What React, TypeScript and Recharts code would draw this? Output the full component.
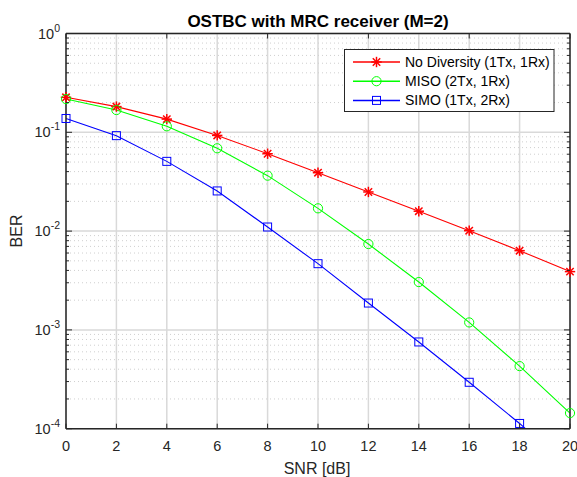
import { LineChart, Line, XAxis, YAxis, CartesianGrid, ReferenceLine } from "recharts"

const snr = [0, 2, 4, 6, 8, 10, 12, 14, 16, 18, 20]
const noDiversity = [0.226, 0.182, 0.136, 0.093, 0.0607, 0.039, 0.0249, 0.0159, 0.0101, 0.00634, 0.00389]
const miso = [0.217, 0.168, 0.115, 0.0689, 0.0364, 0.017, 0.0074, 0.00305, 0.00119, 0.00043, 0.000144]
const simo = [0.138, 0.0925, 0.0508, 0.0255, 0.011, 0.00468, 0.00187, 0.000755, 0.000295, 0.000113, 0.00004]

const xTicks = [0, 2, 4, 6, 8, 10, 12, 14, 16, 18, 20]
const yTicks = [1e-4, 1e-3, 1e-2, 1e-1, 1]
const yMinor = [1e-4, 1e-3, 1e-2, 1e-1].flatMap((d) => [2, 3, 4, 5, 6, 7, 8, 9].map((m) => m * d))
const yDomain = [1e-4, 1]

const series = [
  { key: "noDiv", name: "No Diversity (1Tx, 1Rx)", color: "#ff0000", marker: "star" },
  { key: "miso", name: "MISO (2Tx, 1Rx)", color: "#00ff00", marker: "circle" },
  { key: "simo", name: "SIMO (1Tx, 2Rx)", color: "#0000ff", marker: "square" },
]

const data = snr.map((s, i) => ({ snr: s, noDiv: noDiversity[i], miso: miso[i], simo: simo[i] }))

const ink = "#262626"
const font = "'Liberation Sans', Arial, Helvetica, sans-serif"

// markers only drawn for points inside the visible decade range
const inView = (v: number) => (v >= yDomain[0] && v <= yDomain[1] ? v : null)

function Marker({ type, color, cx, cy }: { type: string; color: string; cx: number; cy: number }) {
  if (type === "circle") return <circle cx={cx} cy={cy} r={4.6} fill="none" stroke={color} strokeWidth={1} />
  if (type === "square")
    return <rect x={cx - 4} y={cy - 4} width={8} height={8} fill="none" stroke={color} strokeWidth={1} />
  const r = 5.2
  const d = 3.7
  return (
    <g stroke={color} strokeWidth={1.5}>
      <line x1={cx - r} y1={cy} x2={cx + r} y2={cy} />
      <line x1={cx} y1={cy - r} x2={cx} y2={cy + r} />
      <line x1={cx - d} y1={cy - d} x2={cx + d} y2={cy + d} />
      <line x1={cx - d} y1={cy + d} x2={cx + d} y2={cy - d} />
    </g>
  )
}

const dotFor = (type: string, color: string) => (p: any) => {
  if (p.cy == null || p.cx == null || isNaN(p.cy)) return <g key={`e-${p.index}`} />
  return (
    <g key={`m-${p.index}`}>
      <Marker type={type} color={color} cx={p.cx} cy={p.cy} />
    </g>
  )
}

const isMajor = (v: number) => yTicks.some((t) => Math.abs(t - v) / t < 1e-6)

const LeftTick = (p: any) => {
  const v = p.payload.value
  const major = isMajor(v)
  const exp = Math.round(Math.log10(v))
  return (
    <g>
      <line x1={p.x} x2={p.x + (major ? 6 : 3)} y1={p.y} y2={p.y} stroke={ink} strokeWidth={1} />
      {major && (
        <text x={p.x - 6} y={p.y + 5} textAnchor="end" fill={ink} fontSize={14.5} fontFamily={font}>
          <tspan>10</tspan>
          <tspan dy={-7} fontSize={10.5}>
            {exp}
          </tspan>
        </text>
      )}
    </g>
  )
}

const RightTick = (p: any) => {
  const major = isMajor(p.payload.value)
  return <line x1={p.x} x2={p.x - (major ? 6 : 3)} y1={p.y} y2={p.y} stroke={ink} strokeWidth={1} />
}

const BottomTick = (p: any) => (
  <g>
    <line x1={p.x} x2={p.x} y1={p.y} y2={p.y - 5} stroke={ink} strokeWidth={1} />
    <text x={p.x} y={p.y + 22} textAnchor="middle" fill={ink} fontSize={14.5} fontFamily={font}>
      {p.payload.value}
    </text>
  </g>
)

const TopTick = (p: any) => <line x1={p.x} x2={p.x} y1={p.y} y2={p.y + 5} stroke={ink} strokeWidth={1} />

const axisLine = { stroke: ink, strokeWidth: 1.5 }

export default function App() {
  return (
    <div style={{ position: "absolute", left: 0, top: 0, width: 577, height: 477, background: "#fff" }}>
      <LineChart width={577} height={477} data={data} margin={{ top: 0, right: 0, bottom: 0, left: 0 }}>
        <CartesianGrid xAxisId="main" yAxisId="main" horizontal={false} stroke="#d9d9d9" strokeWidth={1.5} />
        {yMinor.map((v) => (
          <ReferenceLine
            key={v}
            xAxisId="main"
            yAxisId="main"
            y={v}
            stroke="#cfcfcf"
            strokeWidth={1}
            strokeDasharray="1 3"
          />
        ))}
        {yTicks.map((v) => (
          <ReferenceLine key={`g-${v}`} xAxisId="main" yAxisId="main" y={v} stroke="#d9d9d9" strokeWidth={1.5} />
        ))}
        <XAxis
          xAxisId="main"
          dataKey="snr"
          type="number"
          domain={[0, 20]}
          ticks={xTicks}
          interval={0}
          height={48.3}
          tickSize={0}
          tickMargin={0}
          tickLine={false}
          axisLine={axisLine}
          tick={BottomTick}
        />
        <XAxis
          xAxisId="top"
          orientation="top"
          type="number"
          domain={[0, 20]}
          allowDataOverflow
          ticks={xTicks}
          interval={0}
          height={33.5}
          tickSize={0}
          tickMargin={0}
          tickLine={false}
          axisLine={axisLine}
          tick={TopTick}
        />
        <YAxis
          yAxisId="main"
          type="number"
          scale="log"
          domain={yDomain}
          allowDataOverflow
          ticks={[...yTicks, ...yMinor]}
          interval={0}
          width={66}
          tickSize={0}
          tickMargin={0}
          tickLine={false}
          axisLine={axisLine}
          tick={LeftTick}
        />
        <YAxis
          yAxisId="right"
          orientation="right"
          type="number"
          scale="log"
          domain={yDomain}
          allowDataOverflow
          ticks={[...yTicks, ...yMinor]}
          interval={0}
          width={7}
          tickSize={0}
          tickMargin={0}
          tickLine={false}
          axisLine={axisLine}
          tick={RightTick}
        />
        <YAxis yAxisId="marks" hide type="number" scale="log" domain={yDomain} ticks={yTicks} />
        {series.map((s) => (
          <Line
            key={s.key}
            xAxisId="main"
            yAxisId="main"
            type="linear"
            dataKey={s.key}
            stroke={s.color}
            strokeWidth={1.1}
            dot={false}
            activeDot={false}
            isAnimationActive={false}
          />
        ))}
        {series.map((s) => (
          <Line
            key={`${s.key}-marks`}
            xAxisId="main"
            yAxisId="marks"
            type="linear"
            dataKey={(d: any) => inView(d[s.key])}
            stroke="none"
            dot={dotFor(s.marker, s.color)}
            activeDot={false}
            isAnimationActive={false}
          />
        ))}
      </LineChart>

      <svg
        width={577}
        height={477}
        style={{ position: "absolute", left: 0, top: 0, pointerEvents: "none" }}
        fontFamily={font}
      >
        <text x={318} y={27} textAnchor="middle" fontSize={17} fontWeight="bold" fill="#000">
          OSTBC with MRC receiver (M=2)
        </text>
        <text x={317} y={474} textAnchor="middle" fontSize={16} fill={ink}>
          SNR [dB]
        </text>
        <text x={0} y={0} transform="translate(22,231) rotate(-90)" textAnchor="middle" fontSize={16} fill={ink}>
          BER
        </text>
        <rect x={344.5} y={49.5} width={209.5} height={62} fill="#fff" stroke={ink} strokeWidth={1} />
        {series.map((s, i) => {
          const y = 62 + i * 19.2
          return (
            <g key={s.key}>
              <line x1={353} x2={400} y1={y} y2={y} stroke={s.color} strokeWidth={1.5} />
              <Marker type={s.marker} color={s.color} cx={376.5} cy={y} />
              <text x={405} y={y + 5} fontSize={14} fill="#000">
                {s.name}
              </text>
            </g>
          )
        })}
      </svg>
    </div>
  )
}
